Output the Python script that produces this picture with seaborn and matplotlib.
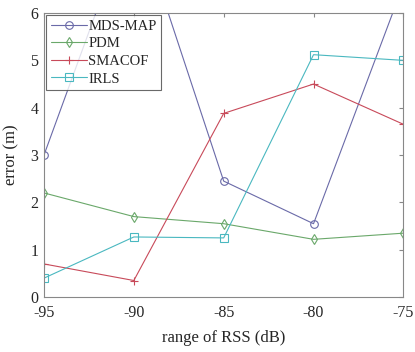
import pandas as pd
import matplotlib
matplotlib.use('Agg')
import matplotlib.pyplot as plt
import seaborn as sns

# valores
rss = [-95, -90, -85, -80, -75]
mds_map = [3.0, 8.2, 2.45, 1.55, 6.6]
pdm = [2.2, 1.7, 1.55, 1.22, 1.35]
smacof = [0.7, 0.35, 3.88, 4.5, 3.65]
irls = [0.4, 1.27, 1.25, 5.12, 5.0]

series = ['MDS-MAP', 'PDM', 'SMACOF', 'IRLS']
colores = ['#6a6aa8', '#6aa86a', '#c84a5a', '#4ab8c0']
marcadores = ['o', 'd', '+', 's']

data = pd.DataFrame({
    'rss': rss * 4,
    'error': mds_map + pdm + smacof + irls,
    'metodo': [s for s in series for _ in rss],
})

sns.set_style('white')
plt.rcParams['font.family'] = ['Liberation Serif', 'DejaVu Serif']
plt.rcParams['axes.unicode_minus'] = False

fig = plt.figure(figsize=(4.15, 3.52), dpi=100)
ax = fig.add_axes([0.106, 0.156, 0.866, 0.807])

# una linea por metodo (no se pueden mezclar marcadores rellenos y de linea)
for nombre, color, m in zip(series, colores, marcadores):
    sub = data[data['metodo'] == nombre]
    sns.lineplot(data=sub, x='rss', y='error', color=color, marker=m,
                 linewidth=0.8, markersize=5.5,
                 markerfacecolor='none' if m != '+' else color,
                 markeredgecolor=color, markeredgewidth=0.8,
                 label=nombre, ax=ax)

ax.set_xlim(-95, -75)
ax.set_ylim(0, 6)
ax.set_xticks(rss)
ax.set_yticks(range(0, 7))
ax.tick_params(direction='in', length=3, top=True, right=True,
               labelsize=11.5, color='#888888')
ax.tick_params(axis='x', pad=6)
ax.tick_params(axis='y', pad=4)
for sp in ax.spines.values():
    sp.set_color('#888888')
    sp.set_linewidth(0.8)

ax.set_xlabel('range of RSS (dB)', fontsize=12, labelpad=6)
ax.set_ylabel('error (m)', fontsize=12, labelpad=8)

leg = ax.legend(loc='upper left', fontsize=10.5, frameon=True, fancybox=False,
                borderaxespad=0.15, handlelength=2.5, handletextpad=0.1,
                labelspacing=0.3, borderpad=0.3)
leg.get_frame().set_edgecolor('#444444')
leg.get_frame().set_linewidth(0.8)

plt.savefig('out.png', dpi=100)
